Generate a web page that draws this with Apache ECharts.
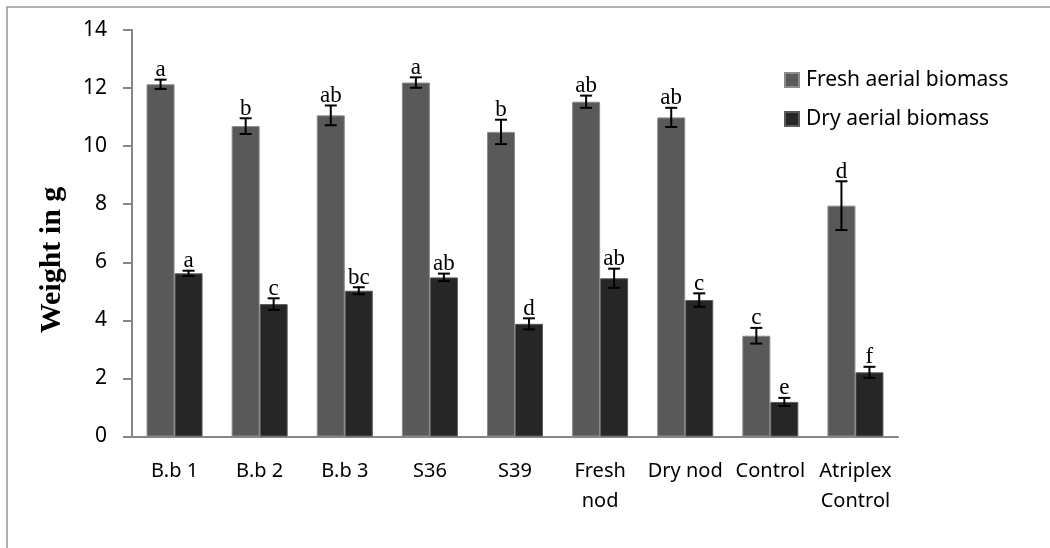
<!DOCTYPE html>
<html>
<head>
<meta charset="utf-8">
<script src="https://cdn.jsdelivr.net/npm/echarts@6/dist/echarts.min.js"></script>
<style>html,body{margin:0;padding:0;background:#fff;}#c{width:1050px;height:548px;}</style>
</head>
<body>
<div id="c"></div>
<script>
var categories = ['B.b 1','B.b 2','B.b 3','S36','S39','Fresh\nnod','Dry nod','Control','Atriplex\nControl'];
var fresh = [12.13, 10.69, 11.06, 12.19, 10.49, 11.53, 10.99, 3.47, 7.95];
var freshErr = [0.16, 0.27, 0.34, 0.18, 0.42, 0.21, 0.33, 0.27, 0.84];
var dry = [5.62, 4.56, 5.02, 5.48, 3.88, 5.45, 4.70, 1.19, 2.21];
var dryErr = [0.09, 0.20, 0.12, 0.13, 0.19, 0.33, 0.23, 0.14, 0.19];
var freshLetters = ['a','b','ab','a','b','ab','ab','c','d'];
var dryLetters = ['a','c','bc','ab','d','ab','c','e','f'];
var yTicks = [0, 14, 2];

var chart = echarts.init(document.getElementById('c'), null, {renderer: 'canvas'});

function errSeries(vals, errs, letters, dx) {
  return {
    type: 'custom',
    z: 5,
    silent: true,
    data: vals.map(function (v, i) { return [i, v, errs[i]]; }),
    renderItem: function (params, api) {
      var i = api.value(0), v = api.value(1), e = api.value(2);
      var top = api.coord([i, v + e]);
      var bot = api.coord([i, v - e]);
      var x = top[0] + dx;
      var cap = 6;
      var ls = {stroke: '#000', lineWidth: 2};
      return {
        type: 'group',
        children: [
          {type: 'line', shape: {x1: x, y1: top[1], x2: x, y2: bot[1]}, style: ls},
          {type: 'line', shape: {x1: x - cap, y1: top[1], x2: x + cap, y2: top[1]}, style: ls},
          {type: 'line', shape: {x1: x - cap, y1: bot[1], x2: x + cap, y2: bot[1]}, style: ls},
          {type: 'text', x: x, y: top[1] + 2,
            style: {text: letters[params.dataIndex],
              align: 'center', verticalAlign: 'bottom', fill: '#000',
              fontSize: 23, fontFamily: '"Liberation Serif", "Times New Roman", serif'}}
        ]
      };
    }
  };
}

var option = {
  backgroundColor: '#fff',
  animation: false,
  grid: {left: 132, right: 152, top: 30, bottom: 111.5, containLabel: false},
  legend: {
    orient: 'vertical', left: 779, top: 64,
    icon: 'rect', itemWidth: 14, itemHeight: 14, itemGap: 17,
    textStyle: {fontFamily: 'Noto Sans', fontSize: 21, color: '#000', lineHeight: 22, padding: [0, 0, 0, 2]},
    data: ['Fresh aerial biomass', 'Dry aerial biomass']
  },
  xAxis: {
    type: 'category',
    data: categories,
    axisLine: {lineStyle: {color: '#868686', width: 2}},
    axisTick: {show: false},
    axisLabel: {interval: 0, color: '#000', fontFamily: 'Noto Sans', fontSize: 20, lineHeight: 30, margin: 20}
  },
  yAxis: {
    type: 'value',
    min: yTicks[0], max: yTicks[1], interval: yTicks[2],
    axisLine: {show: true, lineStyle: {color: '#868686', width: 2}},
    axisTick: {show: true, length: 9, lineStyle: {color: '#868686', width: 2}},
    splitLine: {show: false},
    axisLabel: {color: '#000', fontFamily: 'Noto Sans', fontSize: 21, margin: 25}
  },
  graphic: [
    {type: 'rect', shape: {x: 7, y: 7, width: 1100, height: 600}, style: {fill: 'none', stroke: '#999', lineWidth: 1.5}, z: -1},
    {type: 'text', x: 52, y: 260, rotation: Math.PI / 2,
      style: {text: 'Weight in g', align: 'center', verticalAlign: 'middle', fill: '#000',
        fontSize: 30, fontWeight: 'bold', fontFamily: '"Liberation Serif", "Times New Roman", serif'}}
  ],
  series: [
    {name: 'Fresh aerial biomass', type: 'bar', data: fresh, barWidth: 28, barGap: '0%',
      itemStyle: {color: '#595959', borderColor: '#8a8a8a', borderWidth: 1}},
    {name: 'Dry aerial biomass', type: 'bar', data: dry, barWidth: 28, barGap: '0%',
      itemStyle: {color: '#262626', borderColor: '#5a5a5a', borderWidth: 1}},
    errSeries(fresh, freshErr, freshLetters, -14),
    errSeries(dry, dryErr, dryLetters, 14)
  ]
};
chart.setOption(option);
</script>
</body>
</html>
